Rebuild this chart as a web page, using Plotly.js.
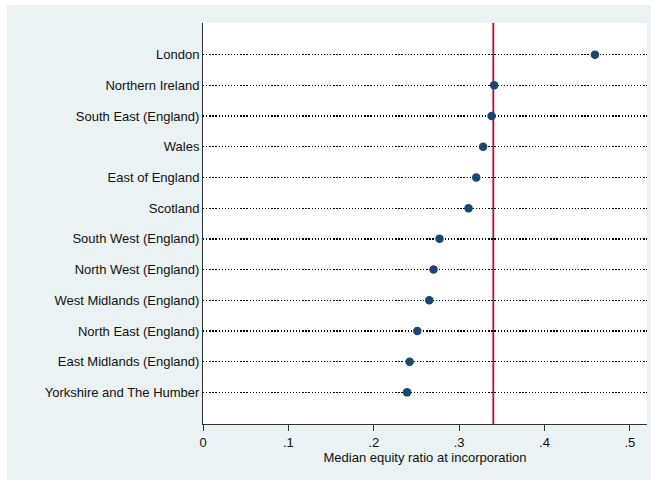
<!DOCTYPE html>
<html>
<head>
<meta charset="utf-8">
<script src="https://cdn.plot.ly/plotly-3.0.1.min.js"></script>
<style>
  html, body { margin: 0; padding: 0; background: #ffffff; }
  #chart { position: absolute; left: 7px; top: 5px; width: 644px; height: 475px; }
</style>
</head>
<body>
<div id="chart"></div>
<script>
// Regions, ordered from bottom to top of the dot plot
const regions = [
  "Yorkshire and The Humber",
  "East Midlands (England)",
  "North East (England)",
  "West Midlands (England)",
  "North West (England)",
  "South West (England)",
  "Scotland",
  "East of England",
  "Wales",
  "South East (England)",
  "Northern Ireland",
  "London"
];
// Median equity ratio at incorporation, per region
const medianEquity = [0.239, 0.242, 0.251, 0.265, 0.270, 0.277, 0.311, 0.320, 0.328, 0.338, 0.341, 0.459];
// Overall (UK) median, drawn as the reference line
const overallMedian = 0.34;
// X-axis ticks
const xTickVals = [0, 0.1, 0.2, 0.3, 0.4, 0.5];
const xTickText = ["0", ".1", ".2", ".3", ".4", ".5"];

const font = { family: "Liberation Sans, Arial, sans-serif", size: 13, color: "#111111" };

const trace = {
  type: "scatter",
  mode: "markers",
  x: medianEquity,
  y: regions,
  marker: { color: "#1a476f", size: 8.5, line: { width: 0 } },
  hoverinfo: "x+y"
};

const layout = {
  width: 644,
  height: 475,
  margin: { l: 196, r: 4, t: 18, b: 56 },
  paper_bgcolor: "#eaf2f3",
  plot_bgcolor: "#ffffff",
  font: font,
  showlegend: false,
  xaxis: {
    range: [0, 0.52],
    tickvals: xTickVals,
    ticktext: xTickText,
    ticks: "outside",
    ticklen: 6,
    tickwidth: 1,
    tickcolor: "#333333",
    showline: true,
    linecolor: "#333333",
    linewidth: 1,
    showgrid: false,
    zeroline: false,
    title: { text: "Median equity ratio at incorporation", font: font, standoff: 3 }
  },
  yaxis: {
    type: "category",
    categoryorder: "array",
    categoryarray: regions,
    range: [-1.03, regions.length - 1 + 1.03],
    showline: true,
    linecolor: "#333333",
    linewidth: 1,
    ticks: "",
    ticklabelstandoff: 0,
    showgrid: true,
    gridcolor: "#000000",
    gridwidth: 1.3,
    griddash: "1.3px,1.8px",
    zeroline: false
  },
  shapes: [{
    type: "line",
    xref: "x",
    yref: "paper",
    x0: overallMedian,
    x1: overallMedian,
    y0: 0,
    y1: 1,
    layer: "below",
    line: { color: "#c10534", width: 1.8 }
  }]
};

Plotly.newPlot("chart", [trace], layout, { displayModeBar: false, staticPlot: true });
</script>
</body>
</html>
